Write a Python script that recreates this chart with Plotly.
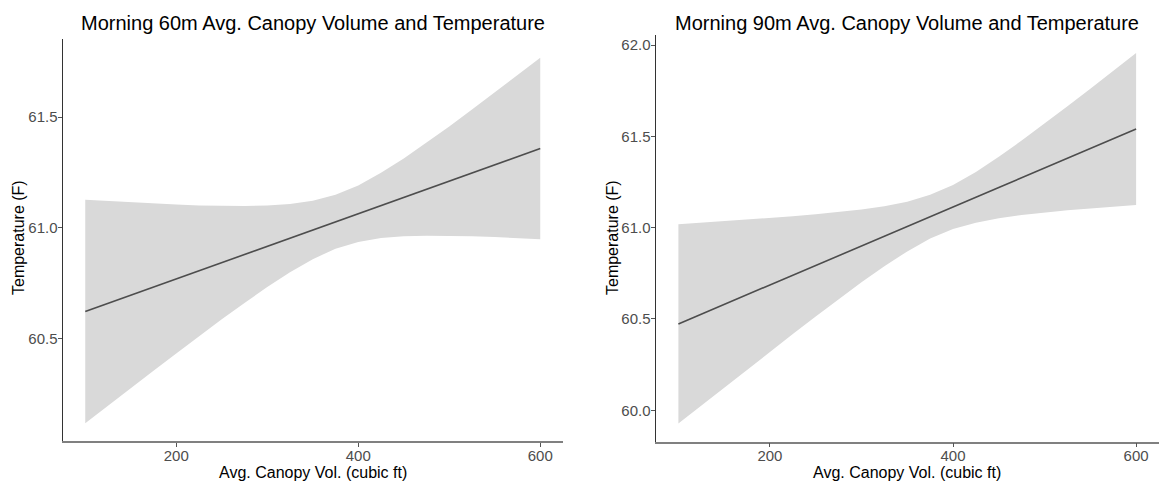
import plotly.graph_objects as go

# Canopy volume grid (cubic ft) at which the fitted lines and bands are drawn
canopy_vol = [100, 125, 150, 175, 200, 225, 250, 275, 300, 325, 350,
              375, 400, 425, 450, 475, 500, 525, 550, 575, 600]

# 60 m morning: fitted temperature and confidence band (F)
fit_60 = [60.621, 60.658, 60.695, 60.732, 60.768, 60.805, 60.842, 60.879, 60.916, 60.953, 60.990,
          61.027, 61.063, 61.100, 61.137, 61.174, 61.211, 61.248, 61.285, 61.321, 61.358]
upper_60 = [61.126, 61.120, 61.115, 61.110, 61.105, 61.101, 61.099, 61.098, 61.100, 61.107, 61.122,
            61.149, 61.191, 61.248, 61.313, 61.384, 61.458, 61.534, 61.612, 61.689, 61.768]
lower_60 = [60.116, 60.196, 60.275, 60.354, 60.431, 60.509, 60.586, 60.660, 60.732, 60.799, 60.858,
            60.905, 60.935, 60.953, 60.961, 60.964, 60.964, 60.962, 60.958, 60.953, 60.948]

# 90 m morning: fitted temperature and confidence band (F)
fit_90 = [60.473, 60.526, 60.580, 60.633, 60.686, 60.740, 60.793, 60.846, 60.900, 60.953, 61.006,
          61.060, 61.113, 61.166, 61.220, 61.273, 61.326, 61.380, 61.433, 61.486, 61.540]
upper_90 = [61.019, 61.027, 61.035, 61.044, 61.052, 61.062, 61.073, 61.084, 61.099, 61.117, 61.142,
            61.180, 61.234, 61.305, 61.388, 61.477, 61.569, 61.665, 61.761, 61.858, 61.956]
lower_90 = [59.927, 60.026, 60.125, 60.222, 60.320, 60.417, 60.513, 60.608, 60.701, 60.789, 60.870,
            60.940, 60.992, 61.027, 61.052, 61.069, 61.083, 61.095, 61.105, 61.115, 61.124]

x_ticks = [200, 400, 600]
y_ticks_60 = [60.5, 61.0, 61.5]
y_ticks_90 = [60.0, 60.5, 61.0, 61.5, 62.0]

titles = ["Morning 60m Avg. Canopy Volume and Temperature",
          "Morning 90m Avg. Canopy Volume and Temperature"]
x_title = "Avg. Canopy Vol. (cubic ft)"
y_title = "Temperature (F)"

W, H = 1160, 484
FONT = "Liberation Sans, Arial, sans-serif"
BAND = "#d9d9d9"
LINE = "#4d4d4d"

fig = go.Figure()

panels = [
    ("x", "y", fit_60, upper_60, lower_60),
    ("x2", "y2", fit_90, upper_90, lower_90),
]
for xa, ya, fit, up, lo in panels:
    fig.add_trace(go.Scatter(x=canopy_vol, y=lo, mode="lines", line=dict(width=0, color=BAND),
                             xaxis=xa, yaxis=ya, showlegend=False, hoverinfo="skip"))
    fig.add_trace(go.Scatter(x=canopy_vol, y=up, mode="lines", line=dict(width=0, color=BAND),
                             fill="tonexty", fillcolor=BAND,
                             xaxis=xa, yaxis=ya, showlegend=False, hoverinfo="skip"))
    fig.add_trace(go.Scatter(x=canopy_vol, y=fit, mode="lines", line=dict(width=1.6, color=LINE),
                             xaxis=xa, yaxis=ya, showlegend=False))


def px_x(v):
    return v / W


def px_y(v):
    return 1 - v / H


tick_font = dict(family=FONT, size=15, color="#4d4d4d")
xaxis_common = dict(range=[75, 625], tickvals=x_ticks, showgrid=False, zeroline=False,
                    showline=True, linecolor="#808080", linewidth=1.6,
                    ticks="outside", ticklen=4, tickcolor="#555555", tickwidth=1,
                    ticklabelstandoff=-4, tickfont=tick_font)
yaxis_common = dict(showgrid=False, zeroline=False, showline=True, linecolor="#333333",
                    linewidth=1, ticks="outside", ticklen=4, tickcolor="#555555", tickwidth=1,
                    ticklabelstandoff=-3, tickformat=".1f", tickfont=tick_font)

fig.update_layout(
    width=W, height=H,
    margin=dict(l=0, r=0, t=0, b=0),
    paper_bgcolor="white", plot_bgcolor="white",
    xaxis=dict(domain=[px_x(62.5), px_x(563)], anchor="y", **xaxis_common),
    yaxis=dict(domain=[px_y(441), px_y(39)], anchor="x", range=[60.036, 61.853],
               tickvals=y_ticks_60, **yaxis_common),
    xaxis2=dict(domain=[px_x(655.5), px_x(1159)], anchor="y2", **xaxis_common),
    yaxis2=dict(domain=[px_y(441.5), px_y(35)], anchor="x2", range=[59.829, 62.055],
                tickvals=y_ticks_90, **yaxis_common),
)

annotations = []
centers = [(62.5 + 563) / 2, (655.5 + 1159) / 2]
y_title_x = [18, 612]
for i, cx in enumerate(centers):
    annotations.append(dict(text=titles[i], x=px_x(cx), y=px_y(23), xref="paper", yref="paper",
                            showarrow=False, xanchor="center", yanchor="middle",
                            font=dict(family=FONT, size=20, color="black")))
    annotations.append(dict(text=x_title, x=px_x(cx), y=px_y(472), xref="paper", yref="paper",
                            showarrow=False, xanchor="center", yanchor="middle",
                            font=dict(family=FONT, size=16, color="black")))
    annotations.append(dict(text=y_title, x=px_x(y_title_x[i]), y=px_y(238), xref="paper",
                            yref="paper", showarrow=False, xanchor="center", yanchor="middle",
                            textangle=-90, font=dict(family=FONT, size=16, color="black")))
fig.update_layout(annotations=annotations)

fig.write_html("out.html")
